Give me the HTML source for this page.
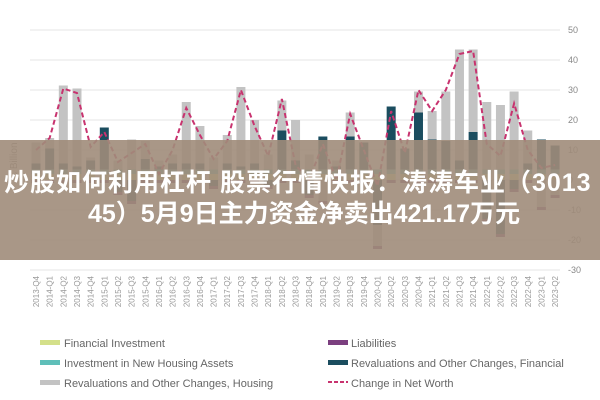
<!DOCTYPE html>
<html><head><meta charset="utf-8"><style>
body{margin:0;background:#fff;}
svg{display:block;font-family:"Liberation Sans",sans-serif;}
</style></head><body>
<svg id="chart" width="600" height="400">
<g id="grid"></g><g id="bars"></g><g id="line"></g><g id="xlabels"></g><g id="ylabels"></g>
<text x="17" y="160" transform="rotate(-90 17 160)" font-size="10" fill="#888" text-anchor="middle">€ Billion</text>
<rect x="0" y="140" width="600" height="120" fill="rgba(160,140,122,0.9)"/>
<text x="4" y="191" font-size="25" font-weight="bold" letter-spacing="1" fill="#fff" font-family="'Liberation Sans','Noto Sans CJK SC',sans-serif">炒股如何利用杠杆 股票行情快报：涛涛车业（3013</text>
<text x="88" y="222" font-size="25" font-weight="bold" fill="#fff" font-family="'Liberation Sans','Noto Sans CJK SC',sans-serif">45）5月9日主力资金净卖出421.17万元</text>
<g font-size="11" fill="#666">
<rect x="40" y="340" width="20" height="5" fill="#d4e08a"/><text x="64" y="347">Financial Investment</text>
<rect x="40" y="360" width="20" height="5" fill="#5fbfb9"/><text x="64" y="367">Investment in New Housing Assets</text>
<rect x="40" y="380" width="20" height="5" fill="#c3c3c3"/><text x="64" y="387">Revaluations and Other Changes, Housing</text>
<rect x="328" y="340" width="20" height="5" fill="#7b3f7f"/><text x="351" y="347">Liabilities</text>
<rect x="328" y="360" width="20" height="5" fill="#1b4d5f"/><text x="351" y="367">Revaluations and Other Changes, Financial</text>
<line x1="328" y1="382" x2="348" y2="382" stroke="#c8336f" stroke-width="2" stroke-dasharray="4 2"/><text x="351" y="387">Change in Net Worth</text>
</g>
</svg>
<script>
const quarters=[];for(let y=2013,q=4;!(y===2023&&q===3);){quarters.push(y+'-Q'+q);q++;if(q>4){q=1;y++;}}
const finInv=[2,2,2,2,2,2,2,2,2,2,2,2,2,2,2,2,2,2,2,2,2,2,2,2,2,2,2,2,2,2,2,2,2,2,2,2,2,2,2];
const houseInv=[1.5,1.5,1.5,1.5,1.5,1.5,1.5,1.5,1.5,1.5,1.5,1.5,1.5,1.5,1.5,1.5,1.5,1.5,1.5,1.5,1.5,1.5,1.5,1.5,1.5,1.5,1.5,1.5,1.5,1.5,1.5,1.5,1.5,1.5,1.5,1.5,1.5,1.5,1.5];
const finRev=[2,7,2,1,3,14,-4,-7,3.5,1,2,2,2,-2,2,1,2,-2,13,3,-5,11,1,11,9,-15,21,7,19,10,9.5,3,12.5,-13,-18,-3,2,10,8];
const houseRev=[7,3.5,26,26,1,0,3,10,6,2,3,20.5,12.5,4,9.5,26.5,14.5,5,10,13.5,5,-7,2,8,0,-7,0,0,7,9.5,16.5,37,27.5,22.5,21.5,26,11,-9,-5];
const liab=[-1,-1,-1,-1,-1,-1,-1,-1,-1,-1,-1,-1,-1,-1,-1,-1,-1,-1,-1,-1,-1,-1,-1,-1,-1,-1,-1,-1,-1,-1,-1,-1,-1,-1,-1,-1,-1,-1,-1];
const netWorth=[10,14,30.5,29,11,16,6,9,12,2,10,24,15,7,13,30,18,8,27,5,0,12,0,22,10,-2,23,9,30,23,30,42,43,12,8,25.5,10,4,5];
const yTicks=[50,40,30,20,10,0,-10,-20,-30];
const NS='http://www.w3.org/2000/svg';
const X=i=>36+i*13.66, Y=v=>180-3*v;
function mk(t,a,p){const e=document.createElementNS(NS,t);for(const k in a)e.setAttribute(k,a[k]);p.appendChild(e);return e;}
const g=document.getElementById('grid'),yl=document.getElementById('ylabels');
yTicks.forEach(v=>{const l=mk('line',{x1:30,x2:560,y1:Y(v),y2:Y(v),stroke:'#e4e4e4','stroke-width':1},g);


const t=mk('text',{x:568,y:Y(v)+3,'font-size':9,fill:'#888'},yl);t.textContent=v;

});
const series=[[finInv,'#d4e08a','fin-inv'],[houseInv,'#5fbfb9','house-inv'],[finRev,'#1b4d5f','fin-rev'],[houseRev,'#c3c3c3','house-rev'],[liab,'#7b3f7f','liab']];
const bg=document.getElementById('bars');
quarters.forEach((q,i)=>{let pos=0,neg=0;series.forEach(([arr,c,n])=>{const v=arr[i];let y0,y1;
if(v>=0){y0=pos;y1=pos+v;pos=y1;}else{y0=neg;y1=neg+v;neg=y1;}
const r=mk('rect',{x:X(i)-4.5,width:9,y:Y(Math.max(y0,y1)),height:Math.abs(y1-y0)*3,fill:c},bg);

});
const t=mk('text',{x:0,y:0,'font-size':8,fill:'#999','text-anchor':'end',transform:`translate(${X(i)+3},276) rotate(-90)`},document.getElementById('xlabels'));
t.textContent=q;

});
const p=mk('polyline',{points:netWorth.map((v,i)=>X(i)+','+Y(v)).join(' '),fill:'none',stroke:'#c8336f','stroke-width':2,'stroke-dasharray':'5 3'},document.getElementById('line'));


</script>
</body></html>
